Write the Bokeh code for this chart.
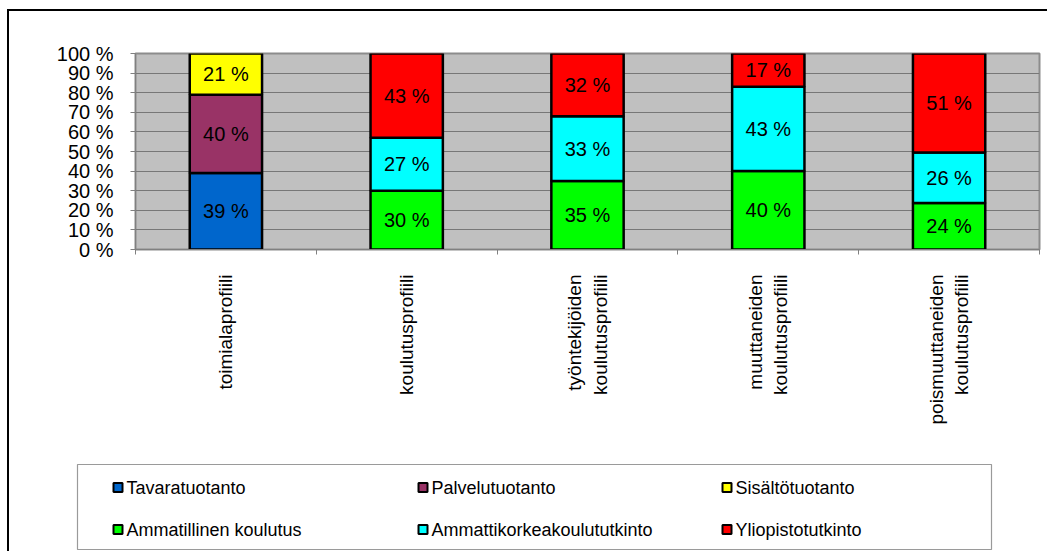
import math
import numpy as np
from bokeh.plotting import figure
from bokeh.layouts import column
from bokeh.models import (ColumnDataSource, Range1d, LinearAxis, FixedTicker,
                          PrintfTickFormatter)
from bokeh.core.properties import value
from bokeh.embed import file_html
from bokeh.resources import INLINE

# ---------------- data ----------------
categories = ["toimialaprofiili", "koulutusprofiili", "työntekijöiden\nkoulutusprofiili",
              "muuttaneiden\nkoulutusprofiili", "poismuuttaneiden\nkoulutusprofiili"]

industry_categories = categories[:1]
industry_names = ["Tavaratuotanto", "Palvelutuotanto", "Sisältötuotanto"]
tavaratuotanto = [39]
palvelutuotanto = [40]
sisaltotuotanto = [21]

education_categories = categories[1:]
education_names = ["Ammatillinen koulutus", "Ammattikorkeakoulututkinto", "Yliopistotutkinto"]
ammatillinen = [30, 35, 40, 24]
ammattikorkea = [27, 33, 43, 26]
yliopisto = [43, 32, 17, 51]

industry_colors = ["#0066CC", "#993366", "#FFFF00"]
education_colors = ["#00FF00", "#00FFFF", "#FF0000"]

y_ticks = list(range(0, 101, 10))

FONT = "Liberation Sans"

# ---------------- main chart ----------------
n = len(categories)
centre = {c: i + 0.5 for i, c in enumerate(categories)}   # category slot centres on the axis

p = figure(width=1038, height=444, x_range=Range1d(0, n), y_range=Range1d(0, 100),
           output_backend="svg", toolbar_location=None, x_axis_location=None,
           min_border_left=126, min_border_right=8, min_border_top=42, min_border_bottom=206)
p.frame_align = False
p.background_fill_color = "#C0C0C0"
p.border_fill_color = "white"
p.outline_line_color = "#8c8c8c"
p.outline_line_width = 2
p.xgrid.visible = False

# y axis
yt = FixedTicker(ticks=y_ticks)
p.yaxis.ticker = yt
p.yaxis.formatter = PrintfTickFormatter(format="%d %%")
p.yaxis.major_label_text_font = FONT
p.yaxis.major_label_text_font_size = "20px"
p.yaxis.major_label_text_color = "black"
p.yaxis.major_tick_out = 5
p.yaxis.major_tick_in = 0
p.yaxis.major_tick_line_color = "#808080"
p.yaxis.minor_tick_line_color = None
p.yaxis.axis_line_color = "#808080"
p.yaxis.major_label_standoff = 17
p.ygrid.ticker = yt
p.ygrid.grid_line_color = "#777777"
p.ygrid.grid_line_width = 1

# x axis (ticks at category boundaries, labels at centres)
xaxis = LinearAxis(ticker=FixedTicker(ticks=[centre[c] for c in categories],
                                      minor_ticks=list(range(n + 1))),
                   major_label_overrides={centre[c]: c for c in categories},
                   major_label_orientation=math.pi / 2,
                   major_tick_line_color=None, major_tick_out=0, major_tick_in=0,
                   minor_tick_out=5, minor_tick_in=0, minor_tick_line_color="#808080",
                   axis_line_color="#808080", major_label_standoff=20,
                   major_label_text_font=FONT, major_label_text_font_size="19px",
                   major_label_text_line_height=1.2,
                   major_label_text_color="black")
p.add_layout(xaxis, "below")


def add_stack(cats, names, series, colors):
    arr = np.array(series, dtype=float)
    tot = arr.sum(axis=0)
    pct = arr / tot * 100.0
    tops = np.cumsum(pct, axis=0)
    bottoms = tops - pct
    xs = [centre[c] for c in cats]
    for i, (name, col) in enumerate(zip(names, colors)):
        src = ColumnDataSource(dict(x=xs, bottom=bottoms[i], top=tops[i],
                                    mid=(bottoms[i] + tops[i]) / 2,
                                    label=[f"{int(v)} %" for v in arr[i]]))
        p.vbar(x="x", bottom="bottom", top="top", width=0.4, source=src, fill_color=col,
               line_color="black", line_width=2.5)
        p.text(x="x", y="mid", text="label", source=src, text_align="center",
               text_baseline="middle", text_font=value(FONT), text_font_size="20px",
               text_color="black")


add_stack(industry_categories, industry_names,
          [tavaratuotanto, palvelutuotanto, sisaltotuotanto], industry_colors)
add_stack(education_categories, education_names,
          [ammatillinen, ammattikorkea, yliopisto], education_colors)

# ---------------- legend strip (pixel coordinates of the page) ----------------
lg = figure(width=1038, height=96, x_range=Range1d(9, 1047), y_range=Range1d(551, 455),
            output_backend="svg", toolbar_location=None, x_axis_location=None,
            y_axis_location=None, min_border=0, min_border_left=0, min_border_right=0,
            min_border_top=0, min_border_bottom=0)
lg.frame_align = False
lg.outline_line_color = None
lg.xgrid.visible = False
lg.ygrid.visible = False
lg.background_fill_color = "white"
lg.border_fill_color = "white"

lg.quad(left=77, right=991, top=464, bottom=549, fill_alpha=0, line_color="#9a9a9a",
        line_width=1.2)

legend_names = industry_names + education_names
legend_colors = industry_colors + education_colors
col_x = [112, 417, 721]
row_y = [487, 529]
leg_src = ColumnDataSource(dict(
    x=[col_x[i % 3] + 5.5 for i in range(len(legend_names))],
    tx=[col_x[i % 3] + 14 for i in range(len(legend_names))],
    y=[row_y[i // 3] for i in range(len(legend_names))],
    color=legend_colors, name=legend_names))
lg.rect(x="x", y="y", width=9, height=9, fill_color="color", line_color="black",
        line_width=2, source=leg_src)
lg.text(x="tx", y="y", text="name", source=leg_src, text_align="left",
        text_baseline="middle", text_font=value(FONT), text_font_size="18px",
        text_color="black")

layout = column(p, lg, spacing=0, margin=(9, 0, 0, 7),
                styles={"border-left": "2px solid black", "border-top": "2px solid black"})

open("out.html", "w").write(file_html(layout, INLINE))
